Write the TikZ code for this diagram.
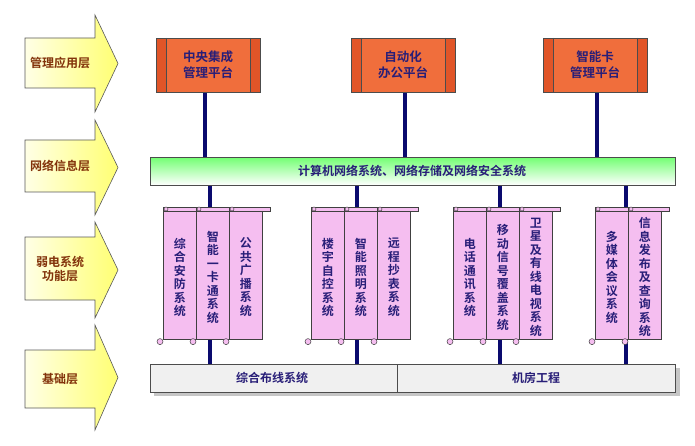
\documentclass[tikz,border=0pt]{standalone}
\usepackage{fontspec}
\setmainfont{Noto Sans CJK SC}[BoldFont={* Bold}]
\usetikzlibrary{calc}
\definecolor{navy}{RGB}{10,10,110}
\definecolor{txt}{RGB}{40,30,120}
\definecolor{brown}{RGB}{130,50,10}
\definecolor{pinkf}{RGB}{245,190,240}
\definecolor{orng}{RGB}{240,110,60}
\definecolor{orngd}{RGB}{225,85,40}
\tikzset{
 larrow/.style={draw=gray!70!black,left color=yellow!10,right color=yellow!55,line width=0.6pt},
 ltext/.style={text=brown,font=\bfseries\fontsize{12}{14}\selectfont},
 link/.style={navy,line width=4.5pt},
 topbox/.style={draw=gray!60!black,fill=orng,minimum width=103pt,minimum height=54pt,inner sep=0pt},
 scroll/.style={draw=gray!50!black,fill=pinkf,minimum width=33pt,minimum height=128pt,inner sep=0pt,line width=0.6pt},
 stext/.style={text=txt,font=\bfseries\fontsize{12}{13.5}\selectfont,align=center},
 bartext/.style={text=txt,font=\bfseries\fontsize{12}{14}\selectfont},
}
\newcommand{\larr}[5]{% name, top head, body top, body bottom, bottom head
 \path[larrow,draw] (25,#3) -- (95,#3) -- (95,#2) -- (118,{(#2+#5)/2}) -- (95,#5) -- (95,#4) -- (25,#4) -- cycle;
 \coordinate (#1) at (60,{(#3+#4)/2});}
\newcommand{\scrl}[3]{% name, x-left, text
 \node[scroll,anchor=north west] (#1) at (#2,211) {};
 \draw[gray!50!black,fill=pinkf,line width=0.5pt] ($(#1.north west)+(0,-4)$) rectangle ($(#1.north east)+(8,0)$);
 \draw[gray!50!black,fill=pinkf,line width=0.5pt] ($(#1.north west)+(3,-2)$) circle (2pt);
 \draw[gray!50!black,fill=pinkf,line width=0.5pt] ($(#1.south west)+(-3,2)$) circle (3pt);
 \node[stext] at ($(#1.center)+(0,2)$) {#3};}
\begin{document}
\begin{tikzpicture}[x=1pt,y=-1pt]
\useasboundingbox (0,0) rectangle (695,446);
\fill[white] (0,0) rectangle (695,446);
% left arrows
\larr{a1}{15}{38}{88}{112}
\larr{a2}{120}{140}{192}{215}
\larr{a3}{222}{237}{300}{318}
\larr{a4}{325}{350}{408}{430}
\node[ltext] at (a1) {管理应用层};
\node[ltext] at (a2) {网络信息层};
\node[ltext,align=center] at (a3) {弱电系统\\功能层};
\node[ltext] at (a4) {基础层};
% links
\foreach \x in {205,405,597}{\draw[link] (\x,90) -- (\x,160);}
\foreach \x in {210,357,500,626}{\draw[link] (\x,183) -- (\x,366);}
% top boxes
\foreach \n/\x/\t in {t1/208/{中央集成\\管理平台},t2/403/{自动化\\办公平台},t3/595/{智能卡\\管理平台}}{
 \node[topbox] (\n) at (\x,65) {};
 \fill[orngd] (\n.north west) rectangle ($(\n.south west)+(10,0)$);
 \fill[orngd] ($(\n.north east)+(-10,0)$) rectangle (\n.south east);
 \draw[gray!60!black] (\n.north west) rectangle (\n.south east);
 \draw[gray!60!black,line width=0.3pt] ($(\n.north west)+(10,0)$) -- ($(\n.south west)+(10,0)$) ($(\n.north east)+(-10,0)$) -- ($(\n.south east)+(-10,0)$);
 \node[stext,font=\bfseries\fontsize{12.5}{16}\selectfont] at (\n) {\t};
}
% green bar
\node[draw=gray!60!black,top color=green!55,bottom color=white,minimum width=525pt,minimum height=28pt,inner sep=0pt,anchor=north west] (g) at (150,157) {};
\node[bartext] at (412,171) {计算机网络系统、网络存储及网络安全系统};
% scrolls
\scrl{s1}{163}{综\\合\\安\\防\\系\\统}
\scrl{s2}{196}{智\\能\\一\\卡\\通\\系\\统}
\scrl{s3}{229}{公\\共\\广\\播\\系\\统}
\scrl{s4}{311}{楼\\宇\\自\\控\\系\\统}
\scrl{s5}{344}{智\\能\\照\\明\\系\\统}
\scrl{s6}{377}{远\\程\\抄\\表\\系\\统}
\scrl{s7}{453}{电\\话\\通\\讯\\系\\统}
\scrl{s8}{486}{移\\动\\信\\号\\覆\\盖\\系\\统}
\scrl{s9}{519}{卫\\星\\及\\有\\线\\电\\视\\系\\统}
\scrl{s10}{595}{多\\媒\\体\\会\\议\\系\\统}
\scrl{s11}{628}{信\\息\\发\\布\\及\\查\\询\\系\\统}
% bottom bar
\fill[gray!45] (154,368) rectangle (680,396);
\node[draw=gray!60!black,fill=gray!12,minimum width=525pt,minimum height=28pt,inner sep=0pt,anchor=north west] (b) at (150,364) {};
\draw[gray!60!black] (397,364) -- (397,392);
\node[bartext] at (272,378) {综合布线系统};
\node[bartext] at (536,378) {机房工程};
\end{tikzpicture}
\end{document}
